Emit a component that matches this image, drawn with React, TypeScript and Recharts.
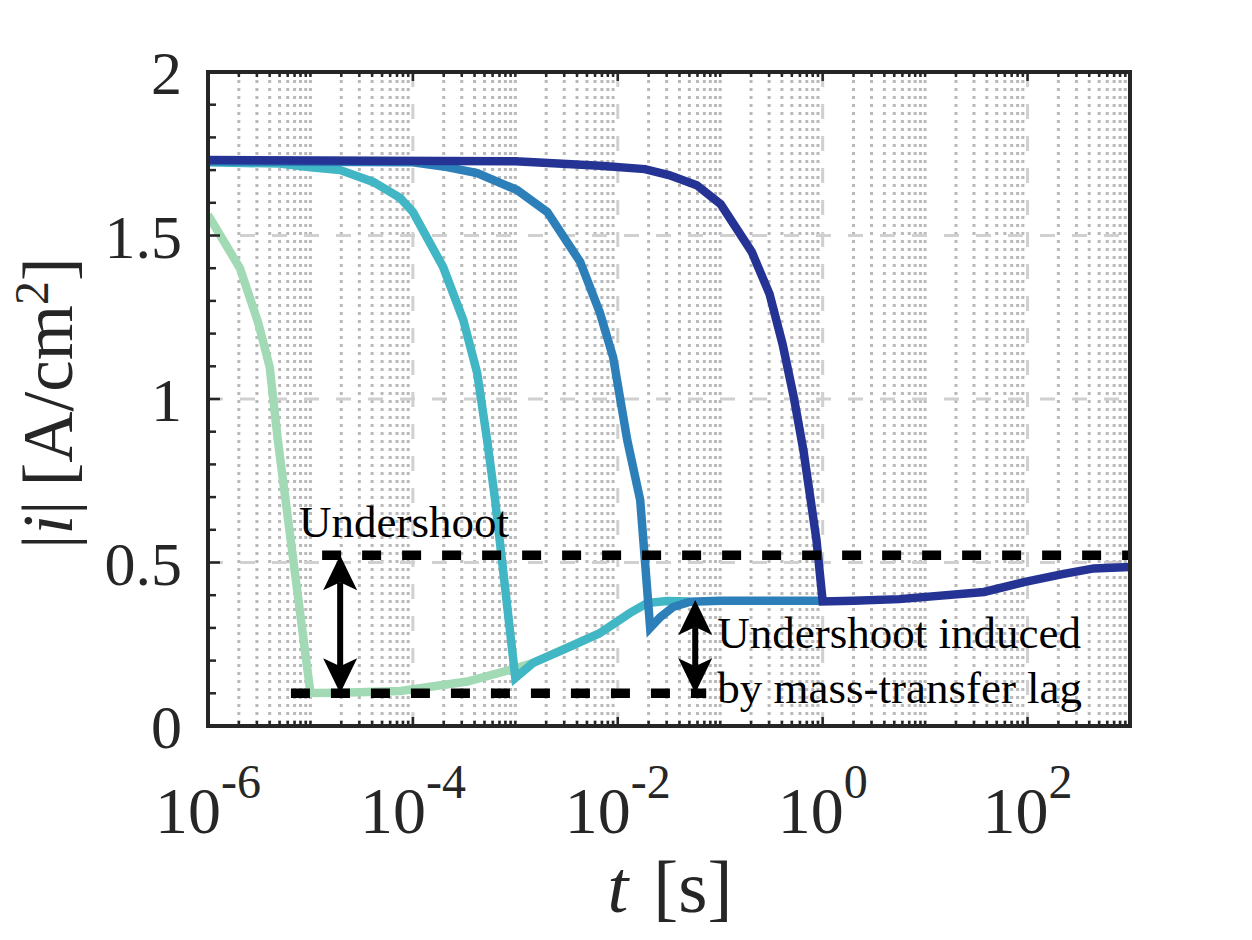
import React from "react";
import {
  ComposedChart,
  Line,
  XAxis,
  YAxis,
  CartesianGrid,
  ReferenceLine,
  ReferenceDot,
} from "recharts";

const FONT = "Liberation Serif, Times New Roman, serif";
const INK = "#262626";

// axes
const X_DOMAIN = [1e-6, 1e3];
const DECADES = [-6, -5, -4, -3, -2, -1, 0, 1, 2, 3];
const LABELED_EXPONENTS = [-6, -4, -2, 0, 2];
const MINOR_STEPS = [2, 3, 4, 5, 6, 7, 8, 9];
const Y_TICKS = [0, 0.1, 0.2, 0.3, 0.4, 0.5, 0.6, 0.7, 0.8, 0.9, 1, 1.1, 1.2, 1.3, 1.4, 1.5, 1.6, 1.7, 1.8, 1.9, 2];
const Y_LABELED = [0, 0.5, 1, 1.5, 2];
const Y_LABELS = ["0", "0.5", "1", "1.5", "2"];
const Y_MAJOR_GRID = [0.5, 1, 1.5];
const X_MAJOR_GRID = [1e-4, 1e-2, 1, 1e2];

// |i| vs t for the four step times
const GREEN_T = [1e-6, 2.05e-6, 3.1e-6, 4.0e-6, 4.8e-6, 1e-5, 2e-5, 7.6e-5, 3.4e-4, 9.5e-4, 1.5e-3, 3.0e-3, 6.7e-3];
const GREEN_I = [1.563, 1.4, 1.232, 1.098, 0.875, 0.101, 0.102, 0.107, 0.136, 0.174, 0.193, 0.236, 0.284];

const TEAL_T = [1e-6, 5e-6, 1e-5, 1.95e-5, 4.1e-5, 7.5e-5, 1e-4, 1.97e-4, 3.1e-4, 4.24e-4, 5.3e-4, 6.35e-4, 1e-3, 1.49e-3, 3.06e-3, 6.7e-3, 0.0132, 0.0194, 0.03, 0.05];
const TEAL_I = [1.724, 1.72, 1.709, 1.7, 1.664, 1.615, 1.572, 1.404, 1.242, 1.08, 0.875, 0.691, 0.147, 0.193, 0.236, 0.284, 0.346, 0.376, 0.382, 0.381];

const BLUE_T = [1e-6, 1e-4, 2.16e-4, 4.24e-4, 1.04e-3, 2.05e-3, 4.3e-3, 6.7e-3, 9.0e-3, 0.01236, 0.01655, 0.0207, 0.026, 0.0347, 0.051, 0.1, 0.3, 1];
const BLUE_I = [1.727, 1.724, 1.709, 1.691, 1.639, 1.572, 1.419, 1.263, 1.128, 0.875, 0.691, 0.3, 0.333, 0.364, 0.38, 0.383, 0.383, 0.383];

const NAVY_T = [1e-6, 1e-3, 6.7e-3, 0.0184, 0.0316, 0.059, 0.101, 0.203, 0.303, 0.406, 0.52, 0.65, 0.87, 1.0, 2.0, 5.6, 37.6, 92, 226, 443, 1000];
const NAVY_I = [1.731, 1.727, 1.713, 1.703, 1.685, 1.654, 1.596, 1.45, 1.321, 1.168, 1.009, 0.841, 0.569, 0.381, 0.383, 0.388, 0.41, 0.44, 0.465, 0.482, 0.486];

// annotation levels
const UNDERSHOOT_LEVEL = 0.522;
const UPPER_DASH_T = [1.3e-5, 1e3];
const LOWER_LEVEL = 0.1;
const LOWER_DASH_T = [6.45e-6, 0.073];
const PLATEAU_LEVEL = 0.385;
const ARROW_T = [1.95e-5, 0.057];

const rows = (ts: number[], vs: number[]) => ts.map((t, k) => ({ t, i: vs[k] }));
const GREEN = rows(GREEN_T, GREEN_I);
const TEAL = rows(TEAL_T, TEAL_I);
const BLUE = rows(BLUE_T, BLUE_I);
const NAVY = rows(NAVY_T, NAVY_I);
const UPPER_DASH = rows(UPPER_DASH_T, [UNDERSHOOT_LEVEL, UNDERSHOOT_LEVEL]);
const LOWER_DASH = rows(LOWER_DASH_T, [LOWER_LEVEL, LOWER_LEVEL]);

const MAJOR_T = DECADES.map((e) => Math.pow(10, e));
const MINOR_T = DECADES.slice(0, -1).flatMap((e) => MINOR_STEPS.map((k) => k * Math.pow(10, e)));
const X_TICKS = [...MAJOR_T, ...MINOR_T].sort((a, b) => a - b);
const MINOR_GRID_T = [...MINOR_T, 1e-5, 1e-3, 1e-1, 1e1];

const PLOT = { left: 208, right: 1130, top: 72, bottom: 726 };

const exponentOf = (v: number) => {
  const e = Math.round(Math.log10(v));
  return Math.abs(Math.log10(v) - e) < 1e-6 ? e : null;
};

function BottomTick(props: any) {
  const { x, payload } = props;
  const e = exponentOf(payload.value);
  const major = e !== null && LABELED_EXPONENTS.includes(e);
  const len = major ? 9 : 5;
  return (
    <g>
      <line x1={x} x2={x} y1={PLOT.bottom} y2={PLOT.bottom - len} stroke={INK} strokeWidth={2.5} />
      {major && (
        <text x={x} y={833} textAnchor="middle" fontFamily={FONT} fontSize={66} fill={INK}>
          10
          <tspan dy={-35} fontSize={48}>
            {String(e)}
          </tspan>
        </text>
      )}
    </g>
  );
}

function TopTick(props: any) {
  const { x, payload } = props;
  const e = exponentOf(payload.value);
  const major = e !== null && LABELED_EXPONENTS.includes(e);
  const len = major ? 9 : 5;
  return <line x1={x} x2={x} y1={PLOT.top} y2={PLOT.top + len} stroke={INK} strokeWidth={2.5} />;
}

function LeftTick(props: any) {
  const { y, payload } = props;
  const idx = Y_LABELED.indexOf(payload.value);
  const len = idx >= 0 ? 12 : 8;
  return (
    <g>
      <line x1={PLOT.left} x2={PLOT.left + len} y1={y} y2={y} stroke={INK} strokeWidth={2.5} />
      {idx >= 0 && (
        <text x={182} y={y + 22} textAnchor="end" fontFamily={FONT} fontSize={62} fill={INK}>
          {Y_LABELS[idx]}
        </text>
      )}
    </g>
  );
}

function RightTick(props: any) {
  const { y, payload } = props;
  const len = Y_LABELED.includes(payload.value) ? 12 : 8;
  return <line x1={PLOT.right} x2={PLOT.right - len} y1={y} y2={y} stroke={INK} strokeWidth={2.5} />;
}

function DoubleArrow(props: any) {
  const { x1, y1, y2 } = props;
  const x = x1;
  const top = Math.min(y1, y2);
  const bot = Math.max(y1, y2);
  const hl = 35;
  const hw = 17;
  const notch = 8;
  return (
    <g>
      <line x1={x} x2={x} y1={top + hl - notch} y2={bot - hl + notch} stroke="#000" strokeWidth={6} />
      <path d={`M${x},${top} L${x - hw},${top + hl} L${x},${top + hl - notch} L${x + hw},${top + hl} Z`} fill="#000" />
      <path d={`M${x},${bot} L${x - hw},${bot - hl} L${x},${bot - hl + notch} L${x + hw},${bot - hl} Z`} fill="#000" />
    </g>
  );
}

const axisLine = { stroke: INK, strokeWidth: 4, strokeLinecap: "square" as const };
const CURVE_WIDTH = 8.5;

export default function App() {
  return (
    <div style={{ position: "absolute", left: 0, top: 0, width: 1252, height: 940, background: "#fff" }}>
      <ComposedChart width={1252} height={940} margin={{ top: 71, right: 121, bottom: 64, left: 8 }}>
        <CartesianGrid
          horizontal={false}
          verticalValues={MINOR_GRID_T}
          stroke="#b9b9b9"
          strokeWidth={3}
          strokeDasharray="3 5"
        />
        <CartesianGrid
          verticalValues={X_MAJOR_GRID}
          horizontalValues={Y_MAJOR_GRID}
          stroke="#d0d0d0"
          strokeWidth={3}
          strokeDasharray="15 17"
        />
        <XAxis
          dataKey="t"
          type="number"
          scale="log"
          domain={X_DOMAIN}
          allowDataOverflow
          ticks={X_TICKS}
          interval={0}
          tick={BottomTick}
          tickLine={false}
          axisLine={axisLine}
          height={150}
        />
        <XAxis
          xAxisId="top"
          orientation="top"
          dataKey="t"
          type="number"
          scale="log"
          domain={X_DOMAIN}
          allowDataOverflow
          ticks={X_TICKS}
          interval={0}
          tick={TopTick}
          tickLine={false}
          axisLine={axisLine}
          height={1}
        />
        <YAxis
          type="number"
          domain={[0, 2]}
          allowDataOverflow
          ticks={Y_TICKS}
          interval={0}
          tick={LeftTick}
          tickLine={false}
          axisLine={axisLine}
          width={200}
        />
        <YAxis
          yAxisId="right"
          orientation="right"
          type="number"
          domain={[0, 2]}
          ticks={Y_TICKS}
          interval={0}
          tick={RightTick}
          tickLine={false}
          axisLine={axisLine}
          width={1}
        />

        <Line data={GREEN} dataKey="i" type="linear" stroke="#a1dab4" strokeWidth={CURVE_WIDTH} dot={false} activeDot={false} isAnimationActive={false} />
        <Line data={TEAL} dataKey="i" type="linear" stroke="#41b6c4" strokeWidth={CURVE_WIDTH} dot={false} activeDot={false} isAnimationActive={false} />
        <Line data={BLUE} dataKey="i" type="linear" stroke="#2c7fb8" strokeWidth={CURVE_WIDTH} dot={false} activeDot={false} isAnimationActive={false} />
        <Line data={NAVY} dataKey="i" type="linear" stroke="#253494" strokeWidth={CURVE_WIDTH} dot={false} activeDot={false} isAnimationActive={false} />

        <Line data={UPPER_DASH} dataKey="i" type="linear" stroke="#000" strokeWidth={9.5} strokeDasharray="19 21" dot={false} activeDot={false} isAnimationActive={false} />
        <Line data={LOWER_DASH} dataKey="i" type="linear" stroke="#000" strokeWidth={9.5} strokeDasharray="19 21" dot={false} activeDot={false} isAnimationActive={false} />

        <ReferenceLine
          segment={[{ x: ARROW_T[0], y: LOWER_LEVEL }, { x: ARROW_T[0], y: UNDERSHOOT_LEVEL }]}
          shape={DoubleArrow}
          zIndex={1500}
        />
        <ReferenceLine
          segment={[{ x: ARROW_T[1], y: LOWER_LEVEL }, { x: ARROW_T[1], y: PLATEAU_LEVEL }]}
          shape={DoubleArrow}
          zIndex={1500}
        />
        <ReferenceDot
          x={7.74e-6}
          y={0.578}
          r={0}
          zIndex={1500}
          shape={(p: any) => (
            <text x={p.cx} y={p.cy} fontFamily={FONT} fontSize={45} fill="#000">
              Undershoot
            </text>
          )}
        />
        <ReferenceDot
          x={0.0935}
          y={0.2385}
          r={0}
          zIndex={1500}
          shape={(p: any) => (
            <text x={p.cx} y={p.cy} fontFamily={FONT} fontSize={45} fill="#000">
              <tspan x={p.cx}>Undershoot induced</tspan>
              <tspan x={p.cx} dy={55}>by mass-transfer lag</tspan>
            </text>
          )}
        />
      </ComposedChart>

      <svg width={1252} height={940} style={{ position: "absolute", left: 0, top: 0, pointerEvents: "none" }}>
        <text transform="translate(72,403) rotate(-90)" textAnchor="middle" fontFamily={FONT} fontSize={71} fill={INK}>
          |<tspan fontStyle="italic">i</tspan>|{"\u2009"}[A/cm<tspan dy={-24} fontSize={48}>2</tspan>
          <tspan dy={24}>]</tspan>
        </text>
        <text x={670} y={912} textAnchor="middle" fontFamily={FONT} fontSize={75} fill={INK}>
          <tspan fontStyle="italic">t</tspan>{"\u2004"}[s]
        </text>
      </svg>
    </div>
  );
}
